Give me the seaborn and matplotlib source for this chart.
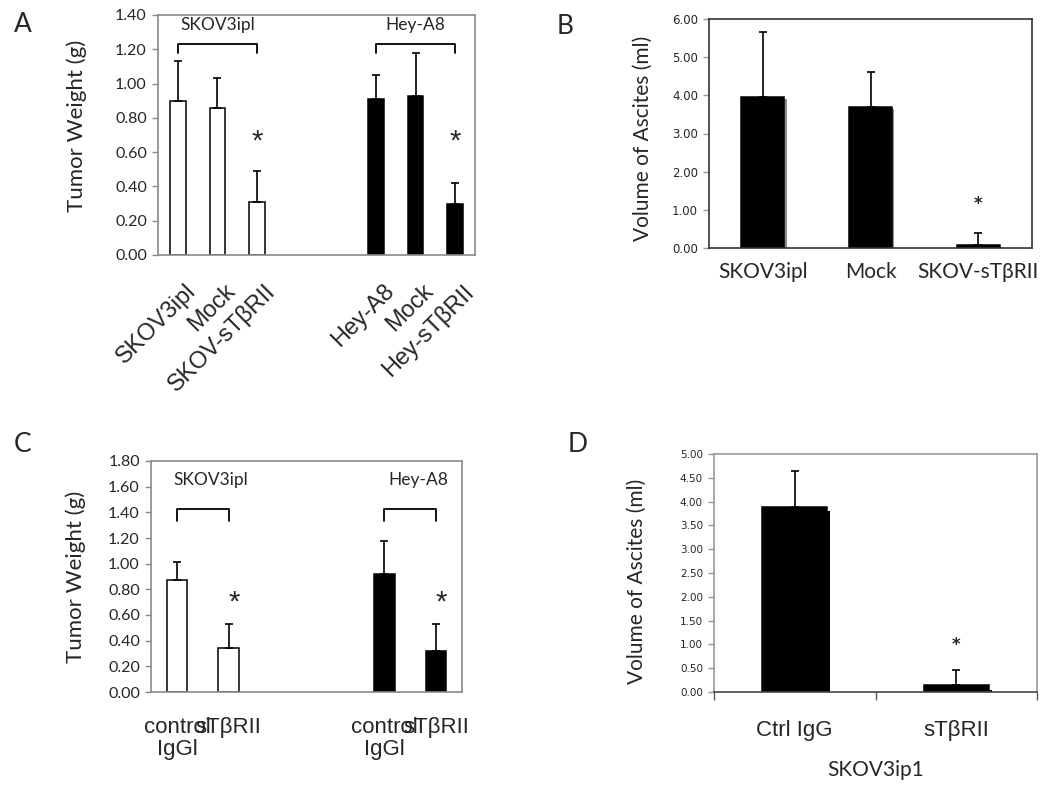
import matplotlib
matplotlib.use("Agg")
import matplotlib.pyplot as plt
import matplotlib.patheffects as pe
from matplotlib.transforms import ScaledTranslation
import numpy as np
import pandas as pd
import seaborn as sns

sns.set_style("white")
plt.rcParams['font.family'] = ['Lato', 'DejaVu Sans']

# ---------------- data ----------------
# Panel A: tumor weight (g)
a_groups = ["SKOV3ipl", "SKOV3ipl", "SKOV3ipl", "Hey-A8", "Hey-A8", "Hey-A8"]
a_labels = ["SKOV3ipl", "Mock", "SKOV-sTβRII", "Hey-A8", "Mock", "Hey-sTβRII"]
a_means = [0.90, 0.86, 0.31, 0.91, 0.93, 0.30]
a_err = [0.23, 0.17, 0.18, 0.14, 0.25, 0.12]
a_sig = [False, False, True, False, False, True]
a_yticks = [0.0, 0.2, 0.4, 0.6, 0.8, 1.0, 1.2, 1.4]

# Panel B: volume of ascites (ml)
b_labels = ["SKOV3ipl", "Mock", "SKOV-sTβRII"]
b_means = [3.95, 3.69, 0.08]
b_err = [1.72, 0.92, 0.31]
b_sig = [False, False, True]
b_yticks = [0, 1, 2, 3, 4, 5, 6]

# Panel C: tumor weight (g)
c_groups = ["SKOV3ipl", "SKOV3ipl", "Hey-A8", "Hey-A8"]
c_labels = ["control\nIgGl", "sTβRII", "control\nIgGl", "sTβRII"]
c_means = [0.87, 0.34, 0.92, 0.32]
c_err = [0.14, 0.19, 0.26, 0.21]
c_sig = [False, True, False, True]
c_yticks = [0.0, 0.2, 0.4, 0.6, 0.8, 1.0, 1.2, 1.4, 1.6, 1.8]

# Panel D: volume of ascites (ml)
d_labels = ["Ctrl IgG", "sTβRII"]
d_means = [3.89, 0.14]
d_err = [0.75, 0.32]
d_sig = [False, True]
d_yticks = [0.0, 0.5, 1.0, 1.5, 2.0, 2.5, 3.0, 3.5, 4.0, 4.5, 5.0]

group_colors = {"SKOV3ipl": "white", "Hey-A8": "black"}

ARIAL = ['Liberation Sans', 'DejaVu Sans']
CALIBRI = ['Lato', 'DejaVu Sans']
VERDANA = ['DejaVu Sans']

fig = plt.figure(figsize=(10.5, 7.88), dpi=100)
W, H = 1050, 788


def add_ax(left, top, right, bottom):
    return fig.add_axes([left / W, 1 - bottom / H, (right - left) / W, (bottom - top) / H])


def draw_bars(ax, keys, order, means, errs, colors, shadow=None):
    df = pd.DataFrame({"key": keys, "value": means})
    pal = dict(zip(keys, colors))
    sns.barplot(data=df, x="key", y="value", order=order, hue="key", hue_order=keys,
                palette=pal, legend=False, dodge=False, width=0.4,
                edgecolor="black", linewidth=1.1, errorbar=None, ax=ax)
    if shadow is not None:
        off, col = shadow
        for p in ax.patches:
            p.set_path_effects([pe.SimplePatchShadow(offset=off, shadow_rgbFace=col, alpha=1.0),
                                pe.Normal()])
    xs = [order.index(k) for k in keys]
    ax.errorbar(xs, means, yerr=[np.zeros(len(means)), errs], fmt='none',
                ecolor='black', elinewidth=1.2, capsize=2.8, capthick=1.2, zorder=1)
    return xs


def style_y(ax, ticks, fam, size, color='#888888'):
    ax.set_yticks(ticks)
    ax.set_yticklabels([f"{t:.2f}" for t in ticks], family=fam, fontsize=size)
    ax.tick_params(axis='y', left=True, direction='out', length=4, width=1,
                   color=color, pad=4)
    ax.set_ylim(ticks[0], ticks[-1])


def frame(ax, color, lw=1.2):
    for s in ax.spines.values():
        s.set_color(color)
        s.set_linewidth(lw)


# ---------------- Panel A ----------------
axA = add_ax(158, 15, 475, 255)
a_keys = [f"{g}:{l}" for g, l in zip(a_groups, a_labels)]
a_order = a_keys[:3] + ["_gap1", "_gap2"] + a_keys[3:]
xsA = draw_bars(axA, a_keys, a_order, a_means, a_err, [group_colors[g] for g in a_groups])
axA.set_xlim(-0.5, len(a_order) - 0.5)
style_y(axA, a_yticks, CALIBRI, 11.5)
axA.set_xticks(range(len(a_order)))
axA.set_xticklabels([a_labels[a_keys.index(k)] if k in a_keys else "" for k in a_order],
                    family=ARIAL, fontsize=17, rotation=45, ha='right', va='top',
                    rotation_mode='anchor')
axA.tick_params(axis='x', length=0, pad=18)
for lab in axA.get_xticklabels():
    lab.set_transform(lab.get_transform() + ScaledTranslation(7 / 100, 0, fig.dpi_scale_trans))
axA.set_xlabel("")
axA.set_ylabel("Tumor Weight (g)", family=CALIBRI, fontsize=16)
axA.yaxis.set_label_coords(-0.224, 0.54)
frame(axA, '#8a8a8a')
for g in ["SKOV3ipl", "Hey-A8"]:
    gx = [x for x, gg in zip(xsA, a_groups) if gg == g]
    axA.plot([gx[0], gx[0], gx[-1], gx[-1]], [1.18, 1.23, 1.23, 1.18], color='black', lw=1.3)
    axA.text(np.mean(gx), 1.34, g, ha='center', va='center', family=CALIBRI, fontsize=12.5)
for x, s in zip(xsA, a_sig):
    if s:
        axA.text(x, 0.66, "*", ha='center', va='center', family=ARIAL, fontsize=21)

# ---------------- Panel B ----------------
axB = add_ax(709, 19, 1032, 248)
xsB = draw_bars(axB, b_labels, b_labels, b_means, b_err, ["black"] * 3,
                shadow=((1.6, -1.6), '#8c8c8c'))
axB.set_xlim(-0.5, 2.5)
style_y(axB, b_yticks, VERDANA, 8.5, color='#999999')
axB.set_xticks(range(3))
axB.set_xticklabels(b_labels, family=CALIBRI, fontsize=15)
axB.tick_params(axis='x', length=0, pad=10)
axB.set_xlabel("")
axB.set_ylabel("Volume of Ascites (ml)", family=CALIBRI, fontsize=15)
axB.yaxis.set_label_coords(-0.173, 0.478)
frame(axB, '#333333')
for x, s in zip(xsB, b_sig):
    if s:
        axB.text(x, 1.15, "*", ha='center', va='center', family=VERDANA, fontsize=12,
                 weight='bold')

# ---------------- Panel C ----------------
axC = add_ax(151, 461, 462, 692)
c_keys = [f"{g}:{l}" for g, l in zip(c_groups, c_labels)]
c_order = c_keys[:2] + ["_gap1", "_gap2"] + c_keys[2:]
xsC = draw_bars(axC, c_keys, c_order, c_means, c_err, [group_colors[g] for g in c_groups])
axC.set_xlim(-0.5, len(c_order) - 0.5)
style_y(axC, c_yticks, CALIBRI, 11.5)
axC.set_xticks(range(len(c_order)))
axC.set_xticklabels([c_labels[c_keys.index(k)] if k in c_keys else "" for k in c_order],
                    family=ARIAL, fontsize=16, linespacing=1.05)
axC.tick_params(axis='x', length=0, pad=18)
axC.set_xlabel("")
axC.set_ylabel("Tumor Weight (g)", family=CALIBRI, fontsize=16)
axC.yaxis.set_label_coords(-0.209, 0.5)
frame(axC, '#8a8a8a')
for g in ["SKOV3ipl", "Hey-A8"]:
    gx = [x for x, gg in zip(xsC, c_groups) if gg == g]
    axC.plot([gx[0], gx[0], gx[-1], gx[-1]], [1.33, 1.425, 1.425, 1.33], color='black', lw=1.3)
    axC.text(np.mean(gx) + 0.15, 1.65, g, ha='center', va='center', family=CALIBRI, fontsize=12.5)
for x, s in zip(xsC, c_sig):
    if s:
        axC.text(x + 0.1, 0.70, "*", ha='center', va='center', family=ARIAL, fontsize=21)

# ---------------- Panel D ----------------
axD = add_ax(714, 454, 1037, 692)
xsD = draw_bars(axD, d_labels, d_labels, d_means, d_err, ["black"] * 2,
                shadow=((2.4, -3.2), 'black'))
axD.set_xlim(-0.5, 1.5)
style_y(axD, d_yticks, VERDANA, 7.5, color='#999999')
axD.set_xticks([-0.5, 0.5, 1.5])
axD.set_xticklabels(["", "", ""])
axD.set_xticks(range(2), minor=True)
axD.set_xticklabels(d_labels, minor=True, family=ARIAL, fontsize=16)
axD.tick_params(axis='x', which='major', bottom=True, direction='out', length=6,
                width=1, color='#555555')
axD.tick_params(axis='x', which='minor', bottom=True, length=0, pad=20)
axD.set_xlabel("SKOV3ip1", family=CALIBRI, fontsize=15, labelpad=14)
axD.set_ylabel("Volume of Ascites (ml)", family=CALIBRI, fontsize=15)
axD.yaxis.set_label_coords(-0.207, 0.463)
frame(axD, '#9a9a9a')
axD.spines['bottom'].set_color('#444444')
for x, s in zip(xsD, d_sig):
    if s:
        axD.text(x, 0.98, "*", ha='center', va='center', family=VERDANA, fontsize=12,
                 weight='bold')

# panel letters
for letter, (px, py) in zip("ABCD", [(14, 12), (557, 14), (14, 432), (568, 432)]):
    fig.text(px / W, 1 - py / H, letter, ha='left', va='top', family=CALIBRI, fontsize=19)

fig.savefig("out.png", dpi=100)
